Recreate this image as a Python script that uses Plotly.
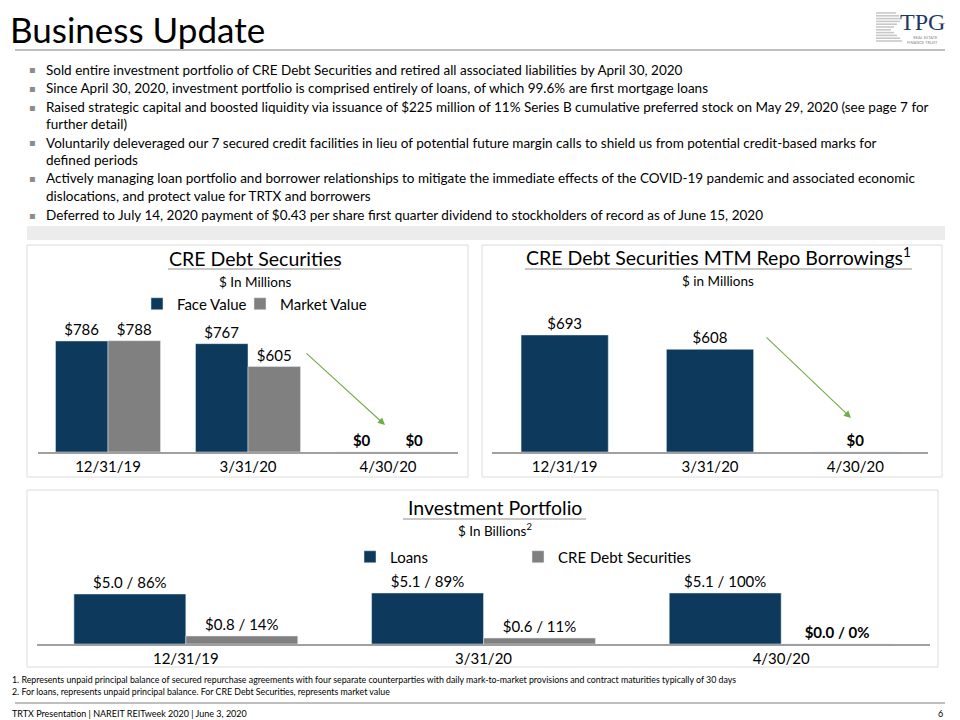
import plotly.graph_objects as go

# ---------------- data ----------------
dates = ["12/31/19", "3/31/20", "4/30/20"]
face_value = [786, 767, 0]
market_value = [788, 605, 0]
repo_borrowings = [693, 608, 0]
loans_bn = [5.0, 5.1, 5.1]
loans_pct = [86, 89, 100]
cre_bn = [0.8, 0.6, 0.0]
cre_pct = [14, 11, 0]

bullets = [
    ["Sold entire investment portfolio of CRE Debt Securities and retired all associated liabilities by April 30, 2020"],
    ["Since April 30, 2020, investment portfolio is comprised entirely of loans, of which 99.6% are first mortgage loans"],
    ["Raised strategic capital and boosted liquidity via issuance of $225 million of 11% Series B cumulative preferred stock on May 29, 2020 (see page 7 for",
     "further detail)"],
    ["Voluntarily deleveraged our 7 secured credit facilities in lieu of potential future margin calls to shield us from potential credit-based marks for",
     "defined periods"],
    ["Actively managing loan portfolio and borrower relationships to mitigate the immediate effects of the COVID-19 pandemic and associated economic",
     "dislocations, and protect value for TRTX and borrowers"],
    ["Deferred to July 14, 2020 payment of $0.43 per share first quarter dividend to stockholders of record as of June 15, 2020"],
]
footnotes = [
    "1. Represents unpaid principal balance of secured repurchase agreements with four separate counterparties with daily mark-to-market provisions and contract maturities typically of 30 days",
    "2. For loans, represents unpaid principal balance. For CRE Debt Securities, represents market value",
]
footer = "TRTX Presentation | NAREIT REITweek 2020 | June 3, 2020"

NAVY = "#0d3a5c"
GRAY = "#808080"
FONT = "Lato"
W, H = 960, 720


def px(x):
    return x / W


def py(y):
    return 1 - y / H


def money_label(v):
    s = f"${v:.0f}"
    return f"<b>{s}</b>" if v == 0 else s


def port_label(v, p):
    s = f"${v:.1f} / {p}%"
    return f"<b>{s}</b>" if v == 0 else s


fig = go.Figure()

# Panel 1: CRE Debt Securities
fig.add_trace(go.Bar(x=dates, y=face_value, name="Face Value", marker_color=NAVY,
                     width=0.375, offset=-0.375, text=[money_label(v) for v in face_value],
                     textposition="outside", cliponaxis=False, xaxis="x", yaxis="y",
                     legend="legend", textfont=dict(size=15, color="#000")))
fig.add_trace(go.Bar(x=dates, y=market_value, name="Market Value", marker_color=GRAY,
                     width=0.375, offset=0, text=[money_label(v) for v in market_value],
                     textposition="outside", cliponaxis=False, xaxis="x", yaxis="y",
                     legend="legend3", textfont=dict(size=15, color="#000")))
# Panel 2: repo borrowings
fig.add_trace(go.Bar(x=dates, y=repo_borrowings, name="Repo", marker_color=NAVY,
                     width=0.6, text=[money_label(v) for v in repo_borrowings],
                     textposition="outside", cliponaxis=False, xaxis="x2", yaxis="y2",
                     showlegend=False, textfont=dict(size=15, color="#000")))
# Panel 3: investment portfolio
fig.add_trace(go.Bar(x=dates, y=loans_bn, name="Loans", marker_color=NAVY,
                     width=0.376, offset=-0.376,
                     text=[port_label(v, p) for v, p in zip(loans_bn, loans_pct)],
                     textposition="outside", cliponaxis=False, xaxis="x3", yaxis="y3",
                     legend="legend2", textfont=dict(size=15, color="#000")))
fig.add_trace(go.Bar(x=dates, y=cre_bn, name="CRE Debt Securities", marker_color=GRAY,
                     width=0.376, offset=0,
                     text=[port_label(v, p) for v, p in zip(cre_bn, cre_pct)],
                     textposition="outside", cliponaxis=False, xaxis="x3", yaxis="y3",
                     legend="legend4", textfont=dict(size=15, color="#000")))

xcommon = dict(type="category", showline=True, linecolor="#a0a0a0", linewidth=1.5,
               ticks="", showgrid=False, zeroline=False, range=[-0.5, 2.5],
               tickfont=dict(size=15, color="#000", family=FONT), fixedrange=True)
ycommon = dict(visible=False, showgrid=False, zeroline=False, fixedrange=True)


def legend_at(x, y):
    return dict(orientation="h", x=px(x), y=py(y), xanchor="left", yanchor="middle",
                font=dict(size=15, family=FONT), itemwidth=30, bgcolor="rgba(0,0,0,0)")


fig.update_layout(
    width=W, height=H, margin=dict(l=0, r=0, t=0, b=0),
    paper_bgcolor="white", plot_bgcolor="rgba(0,0,0,0)",
    font=dict(family=FONT, color="#000"),
    xaxis=dict(domain=[px(38), px(458)], anchor="y", **xcommon),
    yaxis=dict(domain=[py(452), py(300)], range=[0, 1076], **ycommon),
    xaxis2=dict(domain=[px(492), px(928)], anchor="y2", **xcommon),
    yaxis2=dict(domain=[py(452), py(300)], range=[0, 900], **ycommon),
    xaxis3=dict(domain=[px(37), px(930)], anchor="y3", **xcommon),
    yaxis3=dict(domain=[py(644), py(560)], range=[0, 8.4], **ycommon),
    legend=legend_at(137, 304),
    legend3=legend_at(240, 304),
    legend2=legend_at(350, 557),
    legend4=legend_at(518, 557),
    showlegend=True,
)

shapes = []
annotations = []

# title
annotations.append(dict(text="Business Update", x=px(8), y=py(29), xref="paper", yref="paper",
                        xanchor="left", yanchor="middle", showarrow=False,
                        font=dict(size=35, family=FONT, color="#000")))
shapes.append(dict(type="line", xref="paper", yref="paper", x0=px(15), x1=px(945),
                   y0=py(50), y1=py(50), line=dict(color="#bfbfbf", width=2)))

# TPG logo
stripe_ends = [896, 899, 902, 900, 897, 894, 891, 894, 897, 900, 902]
for i, xe in enumerate(stripe_ends):
    yy = 13 + i * 2.8
    shapes.append(dict(type="line", xref="paper", yref="paper", x0=px(876), x1=px(xe),
                       y0=py(yy), y1=py(yy), line=dict(color="#c8c8c8", width=1.6)))
annotations.append(dict(text="TPG", x=px(922), y=py(22), xref="paper", yref="paper",
                        xanchor="center", yanchor="middle", showarrow=False,
                        font=dict(size=24, family="Liberation Serif", color="#1f3a60")))
annotations.append(dict(text="REAL ESTATE<br>FINANCE TRUST", x=px(940), y=py(40), xref="paper",
                        yref="paper", xanchor="right", yanchor="middle", showarrow=False,
                        align="right", font=dict(size=4, family=FONT, color="#888")))

# bullets
line_y = [70, 88, 107, 124, 143, 160, 178, 196, 215]
k = 0
for b in bullets:
    for j, line in enumerate(b):
        if j == 0:
            annotations.append(dict(text="▪", x=px(32), y=py(line_y[k]), xref="paper", yref="paper",
                                    xanchor="center", yanchor="middle", showarrow=False,
                                    font=dict(size=10, family="DejaVu Sans", color="#8c8c8c")))
        annotations.append(dict(text=line.replace("$", "&#36;"), x=px(44), y=py(line_y[k]),
                                xref="paper", yref="paper", xanchor="left", yanchor="middle",
                                showarrow=False, font=dict(size=13.5, family=FONT, color="#000")))
        k += 1

# gray band
shapes.append(dict(type="rect", xref="paper", yref="paper", x0=px(27), x1=px(945),
                   y0=py(240), y1=py(226), fillcolor="#ececec", line=dict(width=0), layer="below"))

# panel borders
for (x0, y0, x1, y1) in [(27, 245, 468, 477), (482, 245, 942, 477), (27, 490, 938, 667)]:
    shapes.append(dict(type="rect", xref="paper", yref="paper", x0=px(x0), x1=px(x1),
                       y0=py(y1), y1=py(y0), line=dict(color="#dcdcdc", width=1),
                       fillcolor="rgba(0,0,0,0)", layer="below"))

# panel titles
panel_titles = [
    ("CRE Debt Securities", 255, 258, 168, 340, 269, "$ In Millions", 282),
    ("CRE Debt Securities MTM Repo Borrowings<sup>1</sup>", 718, 256, 525, 912, 269, "$ in Millions", 281),
    ("Investment Portfolio", 495, 507, 403, 586, 519, "$ In Billions<sup>2</sup>", 530),
]
for (t, cx, ty, ux0, ux1, uy, sub, sy) in panel_titles:
    annotations.append(dict(text=t, x=px(cx), y=py(ty), xref="paper", yref="paper",
                            xanchor="center", yanchor="middle", showarrow=False,
                            font=dict(size=19.5, family=FONT, color="#000")))
    shapes.append(dict(type="line", xref="paper", yref="paper", x0=px(ux0), x1=px(ux1),
                       y0=py(uy), y1=py(uy), line=dict(color="#c8c8c8", width=2)))
    annotations.append(dict(text=sub.replace("$", "&#36;"), x=px(cx), y=py(sy), xref="paper",
                            yref="paper", xanchor="center", yanchor="middle", showarrow=False,
                            font=dict(size=13.5, family=FONT, color="#000")))

# green arrows (tail offset in pixels relative to head)
for (x0, y0, x1, y1) in [(305, 352, 385, 425), (765, 336, 851, 418)]:
    annotations.append(dict(x=px(x1), y=py(y1), ax=x0 - x1, ay=y0 - y1, xref="paper", yref="paper",
                            axref="pixel", ayref="pixel", text="", showarrow=True,
                            arrowhead=2, arrowsize=1.3, arrowwidth=1.1, arrowcolor="#70ad47"))

# footnotes & footer
for i, fn in enumerate(footnotes):
    annotations.append(dict(text=fn, x=px(10), y=py(679 + 12 * i), xref="paper", yref="paper",
                            xanchor="left", yanchor="middle", showarrow=False,
                            font=dict(size=8.8, family=FONT, color="#000")))
shapes.append(dict(type="line", xref="paper", yref="paper", x0=px(15), x1=px(945),
                   y0=py(703), y1=py(703), line=dict(color="#bfbfbf", width=2)))
annotations.append(dict(text=footer, x=px(10), y=py(713), xref="paper", yref="paper",
                        xanchor="left", yanchor="middle", showarrow=False,
                        font=dict(size=9, family=FONT, color="#000")))
annotations.append(dict(text="6", x=px(945), y=py(713), xref="paper", yref="paper",
                        xanchor="right", yanchor="middle", showarrow=False,
                        font=dict(size=9, family=FONT, color="#000")))

fig.update_layout(shapes=shapes, annotations=annotations)
fig.write_html("out.html")
